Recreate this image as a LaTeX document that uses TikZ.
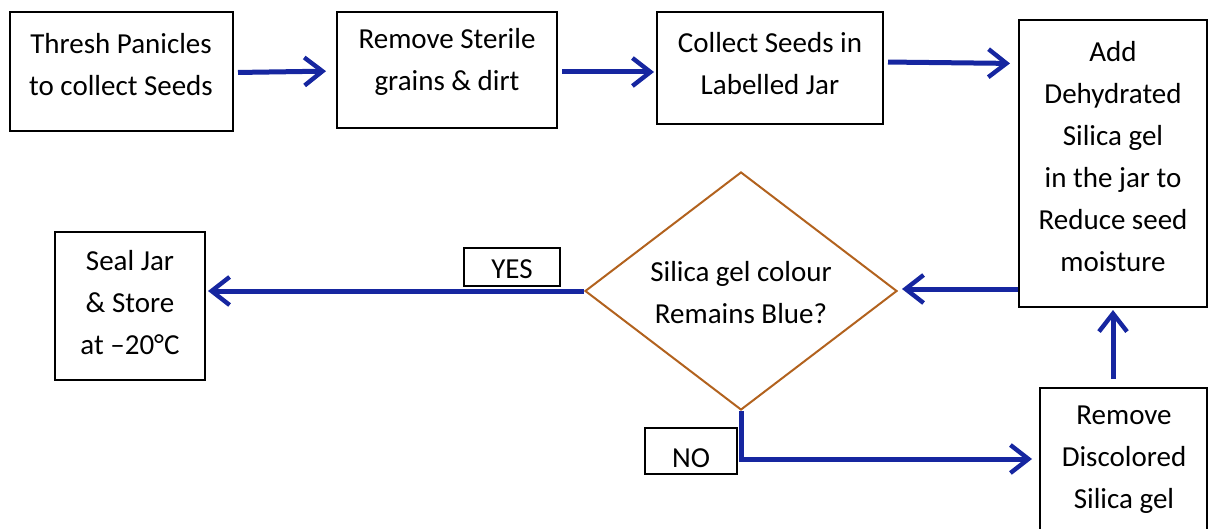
\documentclass[tikz,border=0pt]{standalone}
\usepackage{fontspec}
\setmainfont{Carlito}
\usetikzlibrary{arrows.meta,calc,shapes.geometric}
\definecolor{arrblue}{RGB}{22,38,160}
\definecolor{dbrown}{RGB}{178,98,30}
\tikzset{
  boxn/.style={draw=black,line width=1pt,inner sep=0pt,fill=white},
  txt/.style={align=center,font=\fontsize{14.5}{21}\selectfont,inner sep=0pt},
  arr/.style={draw=arrblue,line width=2.5pt,-{Straight Barb[length=9pt,width=14pt,line width=2.2pt]}},
}
\begin{document}
\begin{tikzpicture}[x=0.5pt,y=-0.5pt]
\useasboundingbox (0,0) rectangle (1209,529);
% boxes
\node[boxn,minimum width=111.5pt,minimum height=59.5pt] (b1) at (121.5,71.5) {};
\node[boxn,minimum width=110pt,minimum height=58pt] (b2) at (447,70) {};
\node[boxn,minimum width=113pt,minimum height=56pt] (b3) at (770,68) {};
\node[boxn,minimum width=94pt,minimum height=143.5pt] (b4) at (1113,163.5) {};
\node[boxn,minimum width=75pt,minimum height=74pt] (b5) at (130,306) {};
\node[boxn,minimum width=83.5pt,minimum height=71pt] (b7) at (1123.5,459) {};
\node[draw=dbrown,line width=1pt,diamond,inner sep=0pt,minimum width=156pt,minimum height=119pt,aspect=1.3] (dia) at (741,291) {};
\node[boxn,minimum width=48pt,minimum height=19pt] (yes) at (512,267) {};
\node[boxn,minimum width=46pt,minimum height=23pt] (no) at (691,451) {};
% texts
\node[txt] (t1) at (121,65) {Thresh Panicles\\to collect Seeds};
\node[txt] (t2) at (447,62) {Remove Sterile\\grains \& dirt};
\node[txt] (t3) at (770,64) {Collect Seeds in\\Labelled Jar};
\node[txt] (t4) at (1113,157) {Add\\Dehydrated\\Silica gel\\in the jar to\\Reduce seed\\moisture};
\node[txt] (t5) at (130,303) {Seal Jar\\\& Store\\at –20°C};
\node[txt] (t7) at (1124,460) {Remove\\Discolored\\Silica gel};
\node[txt] (td) at (741,293) {Silica gel colour\\Remains Blue?};
\node[txt] (ty) at (512,269) {YES};
\node[txt] (tn) at (691,458) {NO};
% connectors
\draw[arr,shorten <=1pt,shorten >=5pt] ($(b1.east)+(2,1)$) -- ($(b2.west)+(0,1)$);
\draw[arr,shorten <=2pt,shorten >=1pt] ($(b2.east)+(0,2)$) -- ($(b3.west)+(0,4)$);
\draw[arr,shorten <=2pt,shorten >=4pt] ($(b3.east)+(0,-6)$) -- ($(b4.west)+(0,-100)$);
\draw[arr,shorten >=2pt] ($(b4.south west)+(0,-19)$) coordinate (a4s) -- (a4s -| dia.east);
\draw[arr,shorten >=1pt] (dia.west) -- (dia.west -| b5.east);
\draw[arr,shorten >=3.5pt] (dia.south) |- (b7.west);
\draw[arr,shorten <=4pt,shorten >=1pt] (b4.south |- b7.north) -- (b4.south);
\end{tikzpicture}
\end{document}
